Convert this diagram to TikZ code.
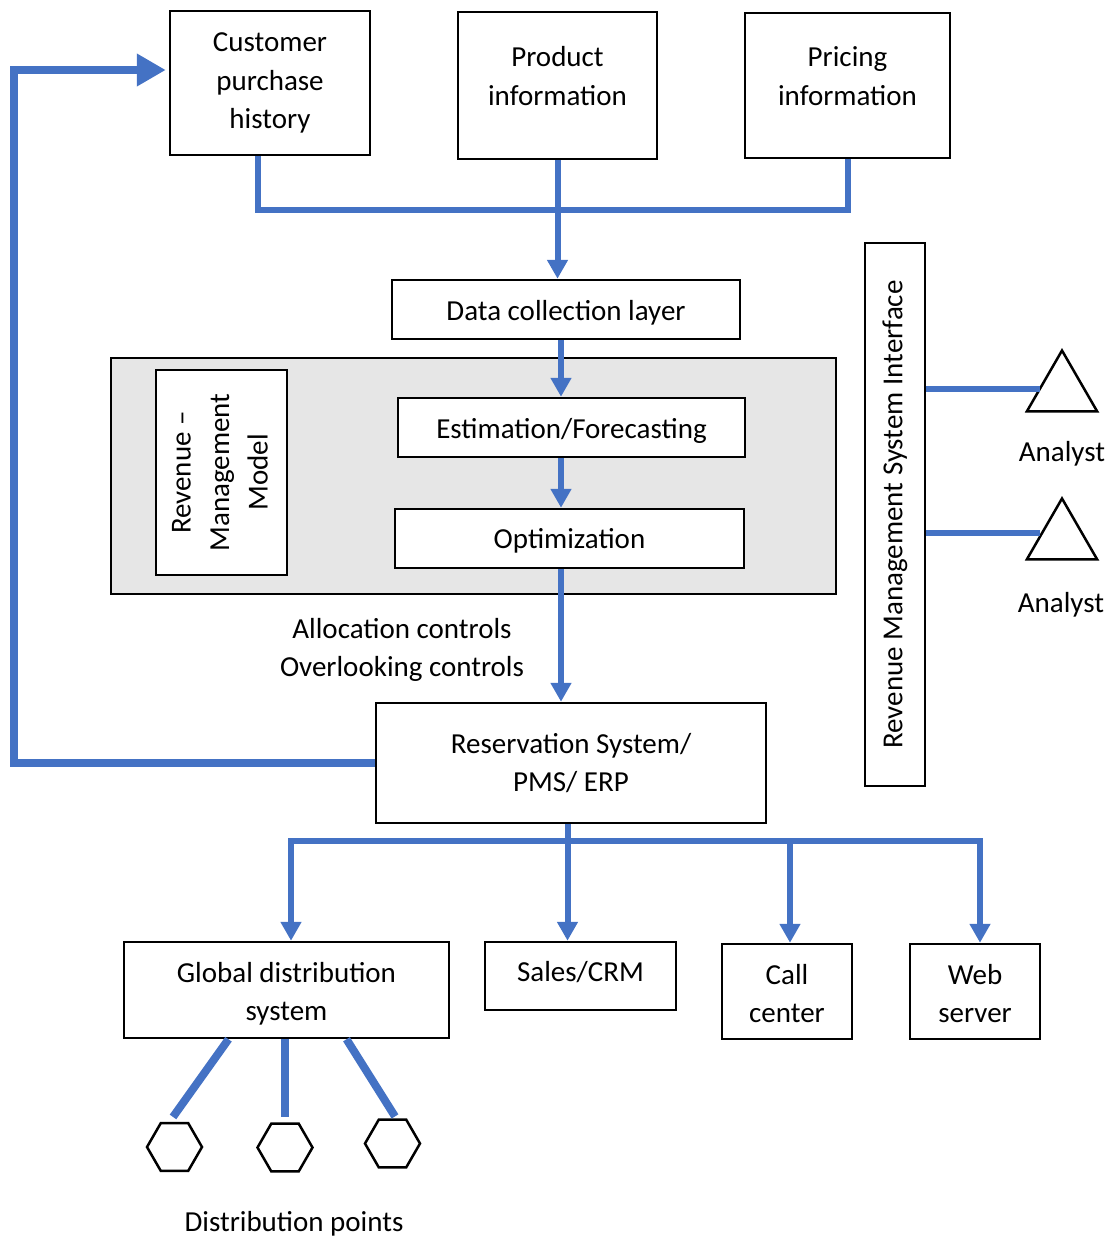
\documentclass[tikz,border=0pt]{standalone}
\usepackage{fontspec}
\setmainfont{Carlito}
\usetikzlibrary{arrows.meta,shapes.geometric,calc}
\definecolor{flowblue}{HTML}{4472C4}
\definecolor{panelgray}{HTML}{E6E6E6}
% move a one-line label up or down without changing its box
\newcommand\nudge[2]{\raisebox{#1}[\height][\depth]{#2}}
\begin{document}
\begin{tikzpicture}[x=1pt,y=-1pt,
  every node/.style={font=\fontsize{29}{38.5}\selectfont, inner sep=0pt},
  box/.style={draw=black, line width=2.5pt, fill=white, align=center},
  thinbox/.style={draw=black, line width=1.4pt, fill=white, align=center},
  txt/.style={align=center},
  flow/.style={draw=flowblue, line width=6pt},
  tip/.style={-{Triangle[width=20pt,length=19pt]}},
  flowarrow/.style={flow, tip},
  feedback/.style={draw=flowblue, line width=8pt, -{Triangle[width=31pt,length=29pt]}},
  spoke/.style={draw=flowblue, line width=8pt},
  analyst/.style={draw=black, line width=2.5pt, regular polygon, regular polygon sides=3, minimum size=81pt},
  outlet/.style={draw=black, line width=2.5pt, regular polygon, regular polygon sides=6, minimum size=55pt}
]
\useasboundingbox (0,0) rectangle (1113,1239);

% data sources
\node[box, minimum width=200pt, minimum height=144pt] (cph) at (270,83) {Customer\\purchase\\history};
\node[box, minimum width=199pt, minimum height=147pt] (prod) at (557.5,85.5) {};
\node[txt] (prodt) at (557.5,76) {Product\\information};
\node[box, minimum width=205pt, minimum height=145pt] (pri) at (847.5,85.5) {};
\node[txt] (prit) at (847.5,76) {Pricing\\information};

\node[box, minimum width=348pt, minimum height=59pt] (dcl) at (566,309.5) {\nudge{-3pt}{Data collection layer}};

% revenue management model panel
\node[draw=black, line width=1.3pt, fill=panelgray, minimum width=725pt, minimum height=236pt] (panel) at (473.5,476) {};
\node[thinbox, minimum width=131pt, minimum height=205pt] (rmm) at (221.5,472.5)
  {\rotatebox{90}{\begin{tabular}{@{}c@{}}Revenue --\\Management\\Model\end{tabular}}};
\node[box, minimum width=347pt, minimum height=59pt] (est) at (571.5,427.5) {\nudge{-3pt}{Estimation/Forecasting}};
\node[box, minimum width=349pt, minimum height=59pt] (opt) at (569.5,538.5) {\nudge{-2pt}{Optimization}};

\node[txt] (ctl) at (402,650) {Allocation controls\\Overlooking controls};

\node[box, minimum width=390pt, minimum height=120pt] (res) at (571,763) {Reservation System/\\PMS/ ERP};

% interface and analysts
\node[thinbox, minimum width=60pt, minimum height=543pt] (rmsi) at (895,514.5)
  {\rotatebox{90}{Revenue Management System Interface}};
\node[analyst] (an1) at (1062,391) {};
\node[analyst] (an2) at (1062,539) {};
\node[anchor=base] (an1t) at (1062,461.5) {Analyst};
\node[anchor=base] (an2t) at (1061,612) {Analyst};

% channels
\node[box, minimum width=325pt, minimum height=96pt] (gds) at (286.5,990) {};
\node[txt] (gdst) at (286.5,994) {Global distribution\\system};
\node[box, minimum width=191pt, minimum height=68pt] (sales) at (580.5,976) {\nudge{4pt}{Sales/CRM}};
\node[box, minimum width=130pt, minimum height=95pt] (call) at (787,991.5) {};
\node[txt] (callt) at (787,993.5) {Call\\center};
\node[box, minimum width=130pt, minimum height=95pt] (web) at (975,991.5) {};
\node[txt] (webt) at (975,993.5) {Web\\server};

% distribution points
\node[outlet] (dp1) at (174.5,1147) {};
\node[outlet] (dp2) at (285,1147.5) {};
\node[outlet] (dp3) at (392.5,1143.5) {};
\node[anchor=base] (dpt) at (294,1231.5) {Distribution points};

% helper coordinates for the routing
\coordinate (busL) at (258,210);
\coordinate (busR) at (848,210);
\coordinate (spine) at (561,0);
\coordinate (drop) at (567.5,0);
\coordinate (fbcorner) at (14,70);
\coordinate (chL) at (291,841);
\coordinate (chR) at (980,841);
\coordinate (chC) at (790,841);
\coordinate (tap1) at (0,389);
\coordinate (tap2) at (0,533);

% inputs into the data collection layer
\draw[flow] (cph.south -| busL) |- (busR) -- (pri.south -| busR);
\draw[flowarrow] (prod.south) -- (prod.south |- dcl.north);

% main chain
\draw[flowarrow] (dcl.south -| spine) -- (est.north -| spine);
\draw[flowarrow] (est.south -| spine) -- (opt.north -| spine);
\draw[flowarrow] (opt.south -| spine) -- (res.north -| spine);

% feedback loop to purchase history
\draw[feedback, shorten >=3pt] (res.west) -| (fbcorner) -- (cph.west |- fbcorner);

% distribution channels
\draw[flow, {Triangle[width=20pt,length=19pt]}-{Triangle[width=20pt,length=19pt]}]
  (gds.north -| chL) |- (chR) -- (web.north -| chR);
\draw[flowarrow] (res.south -| drop) -- (sales.north -| drop);
\draw[flowarrow] (chC) -- (call.north -| chC);

% analysts
\draw[flow, line width=6.5pt] (rmsi.east |- tap1) -- ($(an1.center |- tap1)+(-22,0)$);
\draw[flow, line width=6.5pt] (rmsi.east |- tap2) -- ($(an2.center |- tap2)+(-22,0)$);

% distribution points
\draw[spoke] ($(gds.south)+(-58,0)$) -- ($(dp1.north)+(-1.5,-5)$);
\draw[spoke] ($(gds.south)+(-1.5,0)$) -- ($(dp2.north)+(0,-5.5)$);
\draw[spoke] ($(gds.south)+(60,0)$) -- ($(dp3.north)+(2.5,-2)$);
\end{tikzpicture}
\end{document}
